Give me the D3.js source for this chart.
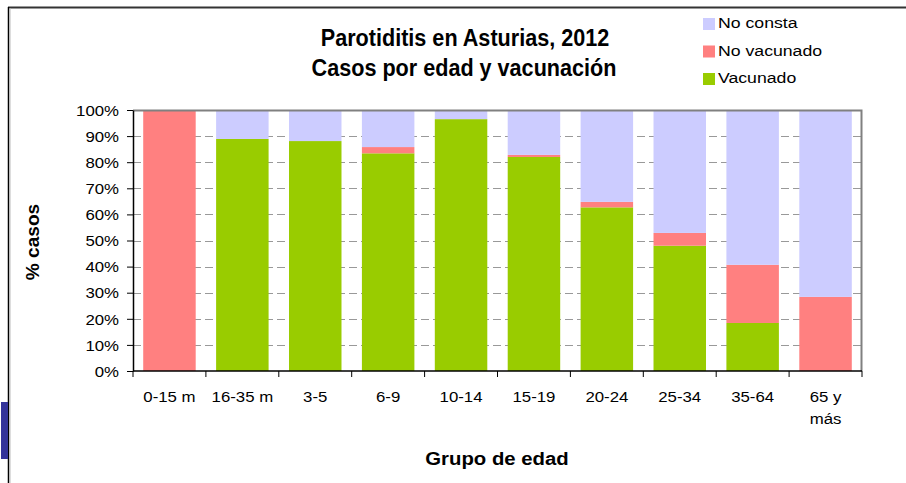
<!DOCTYPE html>
<html>
<head>
<meta charset="utf-8">
<script src="https://cdn.jsdelivr.net/npm/d3@7"></script>
<style>
  body { margin: 0; background: #fff; }
  svg { display: block; font-family: Arial, "Liberation Sans", sans-serif; }
</style>
</head>
<body>
<div id="content"></div>
<script>
// data (percent of cases in each age group)
const groups = ["0-15 m", "16-35 m", "3-5", "6-9", "10-14", "15-19", "20-24", "25-34", "35-64", "65 y|más"];
const vacunado   = [0, 88.9, 88.1, 83.4, 96.5, 82.0, 62.7, 48.0, 18.4, 0];
const noVacunado = [100, 0, 0, 2.4, 0, 0.8, 2.1, 4.9, 22.3, 28.4];
const noConsta   = [0, 11.1, 11.9, 14.2, 3.5, 17.2, 35.2, 47.1, 59.3, 71.6];
const seriesNames = ["Vacunado", "No vacunado", "No consta"];
const colors = { "Vacunado": "#99CC00", "No vacunado": "#FF8080", "No consta": "#CCCCFF" };
const yTicks = [0, 10, 20, 30, 40, 50, 60, 70, 80, 90, 100];

const W = 906, H = 483;
const margin = { left: 133, top: 110, right: 44, bottom: 112 };
const innerW = W - margin.left - margin.right;
const innerH = H - margin.top - margin.bottom;

const svg = d3.select("#content").append("svg").attr("width", W).attr("height", H);

// text in the original picture is a bit stretched sideways, so scale it
function label(parent, x, y, txt, size, sx, opts = {}) {
  const t = parent.append("text")
    .attr("transform", `translate(${x},${y}) ${opts.rotate ? "rotate(-90)" : ""} scale(${sx},1)`)
    .attr("text-anchor", opts.anchor || "middle")
    .attr("font-size", size)
    .attr("fill", "#000")
    .text(txt);
  if (opts.bold) t.attr("font-weight", "bold");
  return t;
}

// slide frame
svg.append("line").attr("x1", 8).attr("x2", W).attr("y1", 7.5).attr("y2", 7.5)
  .attr("stroke", "#333").attr("stroke-width", 2);
svg.append("line").attr("x1", 8.5).attr("x2", 8.5).attr("y1", 7).attr("y2", H)
  .attr("stroke", "#000").attr("stroke-width", 1.5);
svg.append("line").attr("x1", 10).attr("x2", 10).attr("y1", 8).attr("y2", H)
  .attr("stroke", "#bbb").attr("stroke-width", 1);
svg.append("rect").attr("x", 1).attr("y", 402).attr("width", 7).attr("height", 57).attr("fill", "#333399");

const rows = groups.map((g, i) => ({ group: g, "Vacunado": vacunado[i], "No vacunado": noVacunado[i], "No consta": noConsta[i] }));
const stacked = d3.stack().keys(seriesNames)(rows);

const x = d3.scaleBand().domain(groups).range([0, innerW]).paddingInner(0.28).paddingOuter(0.14);
const y = d3.scaleLinear().domain([0, 100]).range([innerH, 0]);

const g = svg.append("g").attr("transform", `translate(${margin.left},${margin.top})`);

// gridlines
g.selectAll(".grid").data(yTicks.filter(d => d > 0 && d < 100)).join("line")
  .attr("x1", 0).attr("x2", innerW)
  .attr("y1", d => Math.round(y(d)) + 0.5).attr("y2", d => Math.round(y(d)) + 0.5)
  .attr("stroke", "#999").attr("stroke-dasharray", "8,4");

// bars
g.selectAll(".layer").data(stacked).join("g")
  .attr("fill", d => colors[d.key])
  .selectAll("rect").data(d => d).join("rect")
  .attr("x", d => x(d.data.group))
  .attr("width", x.bandwidth())
  .attr("y", d => y(d[1]))
  .attr("height", d => y(d[0]) - y(d[1]));

// plot border top/right
g.append("path").attr("d", `M0,0.5H${innerW - 0.5}V${innerH}`)
  .attr("fill", "none").attr("stroke", "#808080").attr("stroke-width", 2);

// y axis
const yAxis = g.append("g").call(d3.axisLeft(y).tickValues(yTicks).tickFormat(d => d + "%").tickSize(6).tickSizeOuter(0));
yAxis.select(".domain").attr("stroke", "#000").attr("stroke-width", 1.5);
yAxis.selectAll(".tick line").attr("stroke", "#000");
yAxis.selectAll("text")
  .attr("x", 0).attr("dy", "0.35em")
  .attr("transform", "translate(-14,0) scale(1.12,1)")
  .attr("font-size", 15).attr("fill", "#000")
  .attr("font-family", "Arial, 'Liberation Sans', sans-serif");

// x axis, ticks between the bands
const xg = g.append("g").attr("transform", `translate(0,${innerH})`);
xg.append("line").attr("x1", 0).attr("x2", innerW).attr("stroke", "#000").attr("stroke-width", 1.5);
xg.selectAll(".xt").data(d3.range(groups.length + 1)).join("line")
  .attr("x1", i => i * x.step()).attr("x2", i => i * x.step())
  .attr("y1", 0).attr("y2", 6).attr("stroke", "#000");
groups.forEach(d => {
  d.split("|").forEach((part, k) => {
    label(xg, x(d) + x.bandwidth() / 2, 31 + k * 22, part, 15, 1.12);
  });
});

// titles
label(svg, 465, 46, "Parotiditis en Asturias, 2012", 24, 0.9, { bold: true });
label(svg, 464, 76, "Casos por edad y vacunación", 24, 0.9, { bold: true });
label(svg, 497, 465, "Grupo de edad", 18, 1.13, { bold: true });
label(svg, 39, 242, "% casos", 18, 1.06, { bold: true, rotate: true });

// legend
const legendOrder = ["No consta", "No vacunado", "Vacunado"];
const lg = svg.append("g").attr("transform", "translate(703,18)");
legendOrder.forEach((name, i) => {
  lg.append("rect").attr("x", 0).attr("y", i * 27.5).attr("width", 12).attr("height", 12).attr("fill", colors[name]);
  label(lg, 15, i * 27.5 + 10, name, 15.5, 1.14, { anchor: "start" });
});
</script>
</body>
</html>
